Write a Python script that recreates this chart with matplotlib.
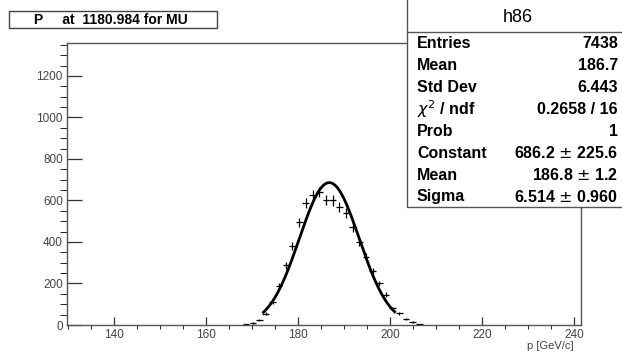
import numpy as np
import matplotlib.pyplot as plt
from matplotlib.ticker import MultipleLocator
from matplotlib.patches import Rectangle

plt.rcParams['font.family'] = ['Liberation Sans', 'DejaVu Sans']

# histogram h86 (bin centers, contents), bin width ~1.45 GeV/c
bin_width = 1.45
centers = [168.7, 170.2, 171.6, 173.0, 174.5, 175.9, 177.4, 178.8, 180.3, 181.7,
           183.2, 184.6, 186.1, 187.5, 189.0, 190.4, 191.9, 193.3, 194.8, 196.2,
           197.7, 199.1, 200.6, 202.0, 203.5, 204.9, 206.4]
counts = [3, 10, 25, 55, 110, 190, 289, 380, 495, 586,
          627, 642, 602, 600, 570, 540, 470, 400, 330, 258,
          200, 145, 80, 56, 30, 14, 3]

# gaussian fit
fit_const, fit_mean, fit_sigma = 686.2, 186.8, 6.514
fit_range = (172.5, 201.0)

stat_labels = ['Entries', 'Mean', 'Std Dev', r'$\chi^{2}$ / ndf', 'Prob',
               'Constant', 'Mean', 'Sigma']
stat_values = ['7438', '186.7', '6.443', '0.2658 / 16', '1',
               '686.2 $\\pm$ 225.6', '186.8 $\\pm$ 1.2', '6.514 $\\pm$ 0.960']

W, H = 622, 353
fig = plt.figure(figsize=(W / 100, H / 100), dpi=100)
ax = fig.add_axes([67 / W, 1 - 325 / H, (581 - 67) / W, (325 - 43) / H])

x = np.array(centers)
y = np.array(counts)
ax.errorbar(x, y, xerr=bin_width / 2, yerr=np.sqrt(y), fmt='none',
            ecolor='black', elinewidth=0.9, capsize=0)

xf = np.linspace(fit_range[0], fit_range[1], 300)
yf = fit_const * np.exp(-0.5 * ((xf - fit_mean) / fit_sigma) ** 2)
ax.plot(xf, yf, color='black', lw=2.0)

ax.set_xlim(129.8, 241.5)
ax.set_ylim(0, 1359)
ax.xaxis.set_major_locator(MultipleLocator(20))
ax.xaxis.set_minor_locator(MultipleLocator(5))
ax.yaxis.set_major_locator(MultipleLocator(200))
ax.yaxis.set_minor_locator(MultipleLocator(50))
ax.tick_params(axis='both', direction='in', labelsize=8.5, colors='#333333',
               labelcolor='#444444', width=0.9)
ax.tick_params(axis='x', which='major', length=6.1, pad=3)
ax.tick_params(axis='x', which='minor', length=3)
ax.tick_params(axis='y', which='major', length=10.8, pad=3)
ax.tick_params(axis='y', which='minor', length=5.4)
for s in ax.spines.values():
    s.set_color('#555555')
    s.set_linewidth(1.0)

fig.text(574 / W, 1 - 346 / H, 'p [GeV/c]', ha='right', va='center',
         fontsize=8, color='#444444')

# title box
fig.patches.append(Rectangle((9 / W, 1 - 28 / H), (217 - 9) / W, 17 / H,
                             transform=fig.transFigure, fill=False,
                             ec='#444444', lw=1.0))
fig.text(111 / W, 1 - 19.5 / H, 'P     at  1180.984 for MU', ha='center',
         va='center', fontsize=10, fontweight='bold')

# stats box
fig.patches.append(Rectangle((407 / W, 1 - 207 / H), (640 - 407) / W, 220 / H,
                             transform=fig.transFigure, fc='white',
                             ec='#555555', lw=1.0, zorder=5))
fig.lines.append(plt.Line2D([407 / W, 1], [1 - 32 / H, 1 - 32 / H],
                            transform=fig.transFigure, color='#555555',
                            lw=1.0, zorder=6))
fig.text(518 / W, 1 - 17 / H, 'h86', ha='center', va='center', fontsize=13,
         zorder=7)
for i, (lab, val) in enumerate(zip(stat_labels, stat_values)):
    yy = 1 - (43 + 22 * i) / H
    fig.text(417 / W, yy, lab, ha='left', va='center', fontsize=11.5,
             fontweight='bold', zorder=7)
    fig.text(618 / W, yy, val, ha='right', va='center', fontsize=11.5,
             fontweight='bold', zorder=7)

fig.savefig('out.png', dpi=100)
